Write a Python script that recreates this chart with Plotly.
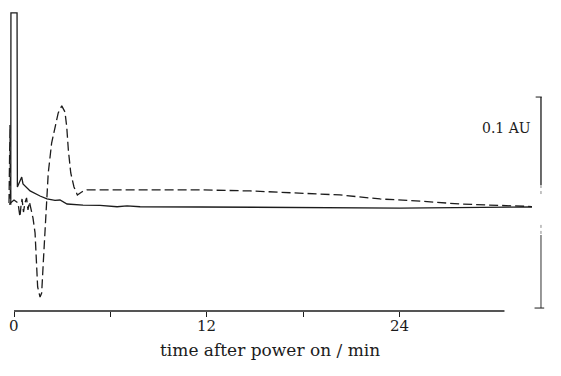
import plotly.graph_objects as go

# ---- data (time in min, absorbance in mAU; 100 mAU = 0.1 AU) ----
time_solid = [-0.31, -0.20, -0.19, 0.19, 0.21, 0.31, 0.48, 0.56, 1.00, 1.62, 2.05,
              2.55, 2.86, 3.30, 4.29, 5.35, 6.41, 7.03, 7.84, 11.57, 17.79, 24.0, 32.21]
abs_solid = [1.4, 1.4, 92.0, 92.0, 9.5, 11.4, 14.2, 10.9, 7.6, 5.2, 3.8,
             3.1, 3.3, 1.4, 0.9, 0.8, 0.1, 0.5, 0.1, 0.0, -0.2, -0.5, 0.0]

time_dashed = [-0.31, -0.25, -0.22, 0.0, 0.25, 0.37, 0.44, 0.50, 0.59, 0.68, 0.78, 0.87,
               0.96, 1.06, 1.18, 1.31, 1.41, 1.47, 1.62, 1.72, 1.82, 1.93, 2.03, 2.13,
               2.34, 2.55, 2.75, 2.97, 3.17, 3.28, 3.38, 3.53, 3.73, 3.94, 4.21, 4.52,
               5.35, 7.84, 11.57, 14.68, 17.79, 20.27, 22.76, 25.25, 27.74, 30.22, 32.21]
abs_dashed = [1.9, 38.9, 1.9, 3.3, 1.9, -4.7, 0.9, 3.8, -2.4, 1.9, 4.3, -1.4,
              2.4, -0.5, -5.2, -12.3, -25.1, -37.9, -42.7, -40.8, -26.5, -12.3, 3.3, 16.1,
              30.3, 37.9, 44.6, 47.9, 45.0, 37.9, 27.0, 16.1, 9.5, 5.7, 7.1, 8.1,
              8.1, 7.8, 8.1, 7.6, 6.6, 5.7, 3.8, 2.8, 1.4, 0.9, 0.2]

x_tick_vals = [0, 6, 12, 18, 24]
x_tick_text = ["0", "", "12", "", "24"]
x_title = "time after power on / min"
scale_label = "0.1 AU"
scale_bar_mAU = [-47.9, 52.1]   # 100 mAU = 0.1 AU
scale_bar_time = 32.77
axis_end_time = 30.5

X_RANGE = [-0.373, 33.02]
Y_RANGE = [-49.3, 94.3]

# page body adds an 8px margin, so the figure is 8px smaller than the window
W, H = 553, 368
ML, MR, MT, MB = 0, 16, 0, 65
FONT = "DejaVu Serif"
INK = "#1c1c1c"


def px(t):
    return (t - X_RANGE[0]) / (X_RANGE[1] - X_RANGE[0])


def py(a):
    return (a - Y_RANGE[0]) / (Y_RANGE[1] - Y_RANGE[0])


plot_h = H - MT - MB

fig = go.Figure()
fig.add_trace(go.Scatter(x=time_dashed, y=abs_dashed, mode="lines",
                         line=dict(color=INK, width=1.3, dash="9px,4px"),
                         showlegend=False, hoverinfo="skip"))
fig.add_trace(go.Scatter(x=time_solid, y=abs_solid, mode="lines",
                         line=dict(color=INK, width=1.3),
                         showlegend=False, hoverinfo="skip"))

shapes = []
# x axis baseline from t=0 to its end
shapes.append(dict(type="line", xref="paper", yref="paper",
                   x0=px(0), x1=px(axis_end_time), y0=0, y1=0,
                   line=dict(color=INK, width=1.3)))
# scale bar (0.1 AU)
xb = px(scale_bar_time)
y_lo, y_hi = py(scale_bar_mAU[0]), py(scale_bar_mAU[1])
y_a, y_b = py(10.4), py(5.7)
y_c, y_d = py(-8.5), py(-13.3)
shapes += [
    dict(type="line", xref="paper", yref="paper", x0=xb, x1=xb, y0=y_hi, y1=y_a,
         line=dict(color=INK, width=1.3)),
    dict(type="line", xref="paper", yref="paper", x0=xb, x1=xb, y0=y_a, y1=y_b,
         line=dict(color="#888", width=1, dash="dot")),
    dict(type="line", xref="paper", yref="paper", x0=xb, x1=xb, y0=y_c, y1=y_d,
         line=dict(color="#888", width=1, dash="dot")),
    dict(type="line", xref="paper", yref="paper", x0=xb, x1=xb, y0=y_d, y1=y_lo,
         line=dict(color="#444", width=1.1)),
    dict(type="line", xref="paper", yref="paper", x0=px(scale_bar_time - 0.33),
         x1=px(scale_bar_time + 0.05), y0=y_hi, y1=y_hi, line=dict(color=INK, width=1)),
    dict(type="line", xref="paper", yref="paper", x0=px(scale_bar_time - 0.4),
         x1=px(scale_bar_time + 0.2), y0=y_lo, y1=y_lo, line=dict(color=INK, width=1)),
]

annotations = [
    dict(text=scale_label, xref="x", yref="y",
         x=32.3, y=37.4, xanchor="right", yanchor="middle",
         showarrow=False, font=dict(family=FONT, size=14, color=INK)),
    dict(text=x_title, xref="x", yref="paper",
         x=15.92, y=-39 / plot_h, xanchor="center", yanchor="middle",
         showarrow=False, font=dict(family=FONT, size=17, color=INK)),
]
for v, s in zip(x_tick_vals, x_tick_text):
    if s:
        annotations.append(dict(text=s, xref="x", yref="paper", x=v, y=-15 / plot_h,
                                xanchor="center", yanchor="middle", showarrow=False,
                                font=dict(family=FONT, size=15, color=INK)))

fig.update_layout(
    width=W, height=H,
    margin=dict(l=ML, r=MR, t=MT, b=MB),
    paper_bgcolor="white", plot_bgcolor="white",
    shapes=shapes, annotations=annotations,
    xaxis=dict(range=X_RANGE, showgrid=False, zeroline=False, showline=False,
               tickmode="array", tickvals=x_tick_vals, ticktext=x_tick_text,
               ticks="outside", ticklen=5, tickwidth=1, tickcolor=INK,
               showticklabels=False),
    yaxis=dict(range=Y_RANGE, visible=False),
)

fig.write_html("out.html")
